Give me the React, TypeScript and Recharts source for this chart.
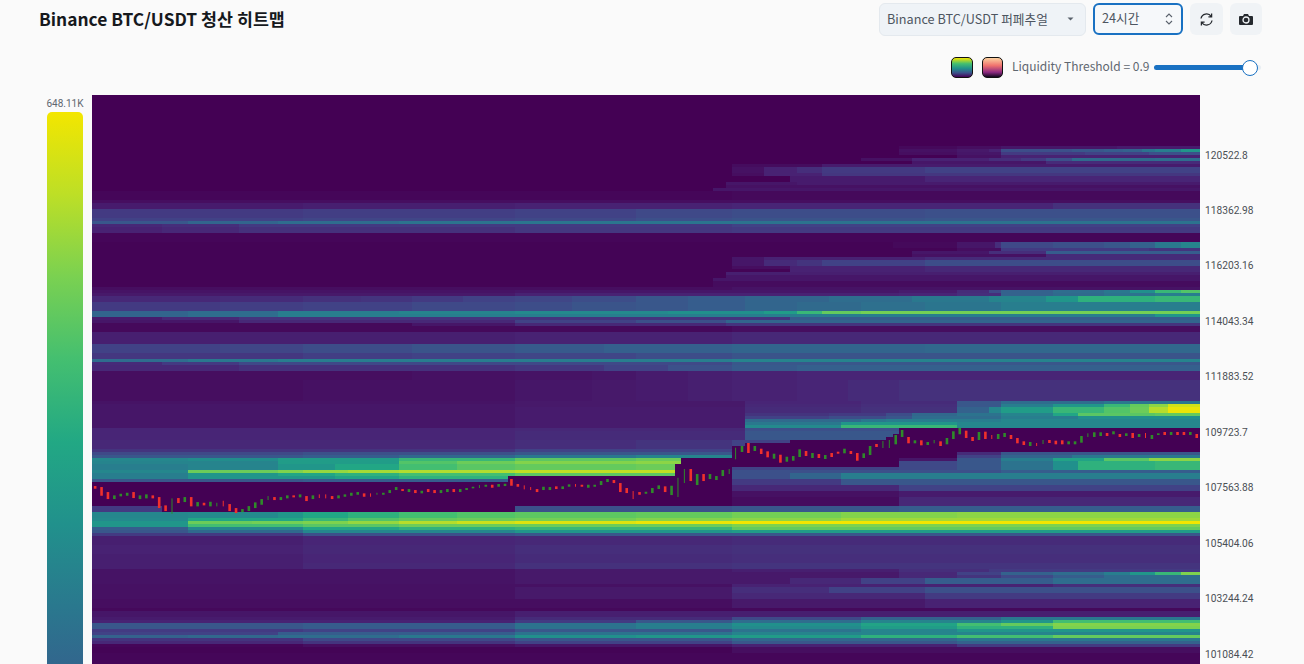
import React from "react";
import { ComposedChart, Bar, Scatter, XAxis, YAxis } from "recharts";

const title = "Binance BTC/USDT 청산 히트맵";
const marketLabel = "Binance BTC/USDT 퍼페추얼";
const rangeLabel = "24시간";
const thresholdLabel = "Liquidity Threshold = 0.9";
const maxLabel = "648.11K";

const priceTicks = [120522.8, 118362.98, 116203.16, 114043.34, 111883.52, 109723.7, 107563.88, 105404.06, 103244.24, 101084.42];
const priceTop = 122860;
const binSize = 116.871;
const rowCount = 205;
const colCount = 173;

const candleHighs = [
  107626,107587,107392,107263,107326,107365,107392,107263,107302,107263,
  107197,106873,107146,107158,107197,107197,107002,106975,107014,106975,
  107053,106924,106768,106729,106846,106990,107119,107236,107197,107197,
  107263,107263,107302,107236,107263,107302,107302,107236,107263,107302,
  107365,107392,107341,107341,107365,107365,107470,107587,107509,107509,
  107470,107443,107509,107470,107470,107509,107509,107509,107548,107599,
  107665,107677,107677,107704,107716,107899,107704,107653,107587,107509,
  107599,107587,107614,107614,107692,107704,107677,107677,107677,107821,
  107899,107860,107743,107548,107431,107392,107404,107548,107653,107614,
  107638,107950,108289,108289,108094,108094,108094,108016,108250,108289,
  109120,109186,109303,109186,109081,108979,108886,108847,108769,108796,
  109057,108991,108913,108874,108835,108913,108964,109081,108991,108913,
  108901,109186,109264,109381,109420,109615,109810,109537,109408,109408,
  109342,109420,109369,109498,109759,109888,109783,109537,109732,109744,
  109615,109654,109693,109615,109498,109369,109342,109303,109420,109420,
  109393,109408,109369,109369,109576,109681,109720,109720,109693,109759,
  109654,109681,109693,109654,109693,109615,109681,109732,109732,109732,
  109732,109732,109654,
];
const candleLows = [
  107521,107248,107119,107119,107224,107248,107158,107119,107146,107146,
  106768,106651,106546,106963,107002,106834,106834,106873,106834,106834,
  106834,106651,106573,106612,106651,106768,106897,107080,107080,107080,
  107146,107185,107185,107041,107119,107158,107146,107119,107146,107209,
  107248,107287,107209,107209,107287,107287,107353,107470,107431,107392,
  107353,107341,107392,107353,107353,107392,107392,107392,107470,107536,
  107548,107599,107560,107599,107626,107638,107599,107497,107470,107392,
  107470,107470,107509,107509,107599,107599,107599,107560,107599,107665,
  107782,107743,107392,107353,107119,107287,107326,107353,107509,107392,
  107275,107197,107743,107821,107665,107821,107899,107860,108016,108094,
  108667,108952,108913,108991,108874,108745,108691,108535,108574,108613,
  108757,108796,108718,108718,108679,108757,108886,108901,108874,108613,
  108718,108835,109147,109108,109108,109252,109537,109291,109291,109213,
  109225,109291,109186,109252,109459,109642,109498,109381,109420,109459,
  109459,109459,109537,109459,109291,109225,109186,109186,109264,109303,
  109252,109252,109252,109252,109315,109537,109537,109576,109576,109642,
  109537,109576,109498,109537,109498,109459,109615,109615,109615,109615,
  109615,109615,109498,
];
const candleColors =
  "rrrgggrggr" + "rrgrgrgrgg" + "rrrgggggrg" + "grgrgrrrgg" + "ggrrggggrg" + "rgrrggrggg" +
  "ggrggrrrrr" + "ggrggrrggg" + "grrrrrgggr" + "gggrgrgggg" + "ggrgrrgrgg" + "grgrgrrgrr" +
  "ggrggggrgr" + "ggrgggrrgr" + "rggrrrgrgr" + "rrggggggrg" + "rgrgrggrgr" + "rgr";
const thinCandles = [13,20,21,28,36,37,44,45,61,68,69,76,85,92,93,100,101,124,125,132,141,148,149,156,165];

// Where price already swept the liquidation levels: [first column, upper price, lower price]
const sweptZones = [
  [0,107743,106807],[11,107743,106651],[12,107743,106573],[65,107977,106573],[66,107977,106807],
  [91,108484,106807],[92,108718,106807],[100,109186,108406],[102,109342,108406],[109,109420,108406],
  [117,109420,108367],[124,109498,108367],[125,109693,108367],[126,109927,108679],[135,109927,108952],
];

// [first row, end row, [column, level (% of max), column, level, ...]]
const liquidityBands: [number, number, number[]][] = [
  [17,18,[126,3,135,5,142,8,160,10]],
  [18,19,[126,6,135,9,140,12,142,25,148,26,153,28,158,30,161,32,164,38,166,42,170,50]],
  [19,20,[126,5,135,8,142,20,155,22,165,26]],
  [20,21,[135,6,142,12]],
  [21,22,[120,6,128,12,140,16,145,20,149,26,153,35,166,36]],
  [22,23,[128,8,149,15]],
  [23,24,[100,4,114,10]],
  [24,26,[100,6,105,12,110,16,114,20,130,22]],
  [26,27,[100,5,105,12,114,19]],
  [27,29,[109,10,130,13]],
  [29,30,[99,8,110,10]],
  [30,31,[99,6]],
  [31,32,[97,8]],
  [32,35,[0,2,100,3]],
  [35,36,[0,5]],
  [36,38,[0,10,33,11,66,12,100,13,150,17]],
  [38,41,[0,20,33,21,66,22,85,24,100,25,130,26]],
  [41,42,[0,22,33,23,66,24,85,26,100,27,130,28]],
  [42,43,[0,28,15,33,29,36,48,38,66,39,100,38]],
  [43,44,[0,14,11,16,23,20,100,22]],
  [44,46,[0,12,11,14,23,17,66,19,100,20]],
  [46,49,[0,2]],
  [49,51,[0,1,125,3,135,8,141,16,142,24,150,26,158,28,162,32,166,40,170,44]],
  [51,52,[0,1,135,5,142,20,165,18]],
  [52,53,[0,1,128,8,140,16,149,30]],
  [53,54,[0,1,128,6,149,15]],
  [54,55,[0,1,100,8,105,12,130,15]],
  [55,57,[0,1,100,8,105,15,110,18,114,22,130,25]],
  [57,58,[0,1,100,5,109,12,130,14]],
  [58,59,[0,1,109,12,130,14]],
  [59,60,[0,1,99,11]],
  [60,61,[0,1,99,8]],
  [61,62,[0,1,97,8]],
  [62,64,[0,1,97,4]],
  [64,65,[0,5,100,7]],
  [65,66,[0,7,66,8,126,10,135,15,140,24,142,32,150,36,158,40,162,48,166,60,170,64]],
  [66,67,[0,9,66,12,126,13,135,16,142,32,150,35,158,38,166,42]],
  [67,69,[0,14,20,15,33,17,42,18,50,20,58,22,66,23,75,25,85,28,93,30,102,33,115,36,128,40,140,44,149,50,154,58,166,60]],
  [69,72,[0,20,20,21,33,22,50,24,66,25,75,27,85,28,93,30,102,33,110,35,120,37,130,39,142,42]],
  [72,73,[0,33,15,36,29,42,48,44,66,46,90,48,105,52,110,60,114,68,120,72]],
  [73,74,[0,33,15,36,29,42,100,42,166,50]],
  [74,75,[0,10,11,14,23,18,72,18,109,30]],
  [75,76,[0,8,23,14,66,22,85,26,99,33]],
  [76,77,[0,3,50,8,66,14,99,18]],
  [77,79,[0,3,100,5]],
  [79,83,[0,11,66,12,100,14]],
  [83,86,[0,22,20,23,33,25,50,27,66,29,80,31,100,33,130,34]],
  [86,88,[0,19,33,21,50,22,66,23,85,25,100,27]],
  [88,89,[0,36,15,40,29,42,100,44]],
  [89,90,[0,15,11,20,23,24,100,28]],
  [90,92,[0,14,23,17,66,19,80,22,90,26,100,29,110,31]],
  [92,95,[0,5,50,6,66,7,78,8,85,10,93,11,100,12,110,13]],
  [95,102,[0,5,33,6,66,8,78,9,85,10,93,11,100,12,110,13,118,15,126,17]],
  [102,103,[0,7,66,9,102,13,120,15,135,28,142,36,158,40]],
  [103,104,[0,8,66,9,102,14,120,16,135,28,142,42,150,50,158,60,162,68,165,78,168,92]],
  [104,106,[0,8,66,10,102,15,120,17,135,32,140,45,142,52,150,60,158,64,162,70,165,86,168,98]],
  [106,107,[0,8,66,10,102,18,115,20,124,25,128,34,135,38,142,44,150,55,154,65,166,68]],
  [107,108,[0,8,66,10,102,22,115,25,124,28,128,36,142,42,154,48]],
  [108,109,[0,8,66,10,102,35,120,40,124,42,142,45]],
  [109,110,[0,8,66,10,102,40,117,50,135,45]],
  [110,111,[0,8,66,10,102,46,117,60,135,45]],
  [111,112,[0,13,66,14,102,26]],
  [112,115,[0,13,66,15,102,28]],
  [115,118,[0,14,66,16,85,18,100,22]],
  [118,119,[0,18,66,22]],
  [119,120,[0,24,33,26,66,28,126,5,135,15,142,28]],
  [120,121,[0,28,33,30,48,34,66,40,85,44,126,8,135,22,142,33,153,40]],
  [121,122,[0,45,15,47,29,52,48,60,66,66,85,70,126,8,135,28,142,42,150,54,158,65,165,78]],
  [122,123,[0,44,29,52,48,64,57,70,66,76,85,78,100,22,126,24,135,28,142,38,150,48,154,58,166,60]],
  [123,125,[0,42,15,44,29,50,38,55,48,62,57,65,66,68,85,70,100,22,126,24,135,28,142,38,150,48,154,58,166,60]],
  [125,126,[0,45,15,70,29,75,33,80,40,83,48,85,66,88,100,26,126,26,142,30]],
  [126,127,[0,42,15,50,29,55,38,58,48,62,66,66,100,26,109,33,117,42]],
  [127,128,[0,42,15,50,38,54,48,58,66,62,100,26,109,33,117,42]],
  [128,130,[0,28,33,30,100,20,117,28]],
  [130,132,[100,14,126,22]],
  [132,134,[100,6,126,10]],
  [134,137,[100,4,126,14]],
  [137,139,[0,20,66,26,100,28,126,30]],
  [139,141,[0,45,15,46,29,50,33,55,40,58,48,62,57,64,66,66,85,68,100,72,117,76,135,78]],
  [141,142,[0,46,15,55,33,60,40,64,48,68,57,70,66,72,85,76,100,78,117,82]],
  [142,143,[0,50,15,70,25,72,33,75,40,80,48,86,57,91,66,95,85,98,100,100]],
  [143,144,[0,50,15,62,33,65,48,70,66,70,100,75]],
  [144,145,[0,30,15,45,33,55,48,58,66,60,100,68]],
  [145,146,[0,28,15,35,33,45,66,50,100,52]],
  [146,147,[0,20,33,26,66,28]],
  [147,150,[0,11,33,13,66,14,100,15]],
  [150,153,[0,12,33,14,66,16,100,17]],
  [153,156,[0,11,33,13,66,15,100,16]],
  [156,158,[0,11,33,14,66,17,100,18]],
  [158,159,[0,7,66,9,100,11,126,16,140,20]],
  [159,160,[0,7,66,9,126,14,135,22,142,32,150,36,158,42,162,50,166,60,170,75]],
  [160,161,[0,7,66,9,126,14,135,18,142,24,150,30,158,36]],
  [161,163,[0,7,66,9,109,14,120,22,130,30,150,36]],
  [163,164,[0,6,100,12,150,16]],
  [164,166,[0,6,66,9,100,16,115,22,130,26]],
  [166,168,[0,6,66,9,100,14,130,20]],
  [168,171,[0,5,100,9,130,12]],
  [171,172,[0,3]],
  [172,174,[0,8,66,11]],
  [174,175,[0,10,66,15,100,24,120,32,142,40]],
  [175,176,[0,12,66,20,85,28,100,36,120,44,142,50,150,62]],
  [176,177,[0,28,33,30,66,38,85,42,100,48,120,54,135,62,142,68,150,76]],
  [177,178,[0,28,33,30,66,38,85,42,100,46,120,52,135,58,150,74]],
  [178,179,[0,20,33,22,66,28,100,38,120,44,135,50]],
  [179,180,[0,22,29,30,66,38,100,44]],
  [180,181,[0,32,15,34,29,36,48,40,66,48,85,50,100,52,120,58,135,62,150,68]],
  [181,182,[0,18,33,24,66,28,100,34,135,40]],
  [182,183,[0,14,33,18,66,22,100,28,135,32]],
  [183,184,[0,2,33,5,66,8,100,12,135,20]],
  [184,186,[0,1,100,5]],
  [186,205,[0,2]],
];

const viridis = [
  [68,1,84],[72,36,117],[65,68,135],[53,95,141],[42,120,142],[33,145,140],
  [34,168,132],[68,191,112],[122,209,81],[189,223,38],[243,230,0],
];
// Calibration of read levels against the colour bar
const levelCurve = [[0,0],[10,7.5],[20,17],[28,27],[40,40],[50,52],[65,74],[80,84],[100,100]];
function colourOf(raw: number) {
  let level = raw;
  for (let i = 0; i < levelCurve.length - 1; i++) {
    const [a, b] = levelCurve[i];
    const [c, d] = levelCurve[i + 1];
    if (raw >= a && raw <= c) { level = b + ((raw - a) / (c - a)) * (d - b); break; }
  }
  const t = Math.max(0, Math.min(100, level)) / 10;
  const i = Math.min(9, Math.floor(t));
  const f = t - i;
  const c = viridis[i].map((a, k) => Math.round(a + (viridis[i + 1][k] - a) * f));
  return `rgb(${c[0]},${c[1]},${c[2]})`;
}

type Run = { col: number; price: number; span: number; level: number };

function buildRuns(): Run[] {
  const perRow = new Map<number, number[]>();
  liquidityBands.forEach(([a, b, stops]) => {
    for (let r = a; r < b; r++) perRow.set(r, stops);
  });
  const runs: Run[] = [];
  for (let r = 0; r < rowCount; r++) {
    const stops = perRow.get(r) || [0, 0];
    const price = priceTop - (r + 0.5) * binSize;
    let cur: Run | null = null;
    for (let c = 0; c < colCount; c++) {
      let level = 0;
      for (let s = 0; s < stops.length; s += 2) if (stops[s] <= c) level = stops[s + 1];
      let zone = sweptZones[0];
      for (const z of sweptZones) if (z[0] <= c) zone = z;
      if (price < zone[1] && price > zone[2]) level = 0;
      if (cur && cur.level === level) cur.span += 1;
      else {
        cur = { col: c, price, span: 1, level };
        runs.push(cur);
      }
    }
  }
  return runs;
}

const heatRuns = buildRuns();
const candles = candleHighs.map((h, i) => ({
  col: i,
  range: [candleLows[i], h],
  rising: candleColors[i] === "g",
  thin: thinCandles.includes(i + 1),
}));

const W = 1304;
const H = 715;
const plotLeft = 92;
const plotRight = 1200;
const plotTop = 95;
const plotBottom = 710;
const colPx = (plotRight - plotLeft) / colCount;
const rowPx = (plotBottom - plotTop) / rowCount;

const HeatCell = (p: any) => {
  const d = p.payload as Run;
  return (
    <rect
      x={p.cx}
      y={p.cy - rowPx / 2}
      width={d.span * colPx + 0.4}
      height={rowPx + 0.2}
      fill={colourOf(d.level)}
      shapeRendering="crispEdges"
    />
  );
};

const CandleBody = (p: any) => {
  const d = p.payload;
  const w = d.thin ? 1 : 2.6;
  return (
    <rect
      x={p.x + p.width / 2 - w / 2}
      y={p.y}
      width={w}
      height={Math.max(1.5, p.height)}
      fill={d.rising ? "#2f8a2a" : "#f0302c"}
    />
  );
};

const uiFont = "'Noto Sans CJK KR','Noto Sans',sans-serif";
const abs = (l: number, t: number, w: number, h: number): React.CSSProperties => ({
  position: "absolute", left: l, top: t, width: w, height: h, boxSizing: "border-box",
});

export default function App() {
  return (
    <div style={{ position: "absolute", left: 0, top: 0, width: W, height: 664, overflow: "hidden", background: "#fafafa", fontFamily: uiFont }}>
      <div style={{ position: "absolute", left: 39, top: 6, fontSize: 17.35, fontWeight: 700, color: "#16191d", lineHeight: "26px", whiteSpace: "nowrap" }}>{title}</div>

      <div style={{ ...abs(879, 3, 207, 33), background: "#eff3f7", border: "1px solid #e4e9ee", borderRadius: 6, color: "#4d5560", fontSize: 12.7, lineHeight: "29px", paddingLeft: 7, whiteSpace: "nowrap" }}>{marketLabel}</div>
      <svg style={abs(1066, 16, 9, 6)} viewBox="0 0 9 6"><path d="M1.5 1.5h6L4.5 4.5z" fill="#5a626c" /></svg>
      <div style={{ ...abs(1093, 3, 90, 32), background: "#f6f8fa", border: "2px solid #1971c2", borderRadius: 6, color: "#4d5560", fontSize: 12.7, lineHeight: "25px", paddingLeft: 7 }}>{rangeLabel}</div>
      <svg style={abs(1164, 11, 10, 16)} viewBox="0 0 10 16"><path d="M2 6l3-3 3 3M2 10l3 3 3-3" fill="none" stroke="#5a626c" strokeWidth="1.1" /></svg>
      <div style={{ ...abs(1190, 3, 33, 32), background: "#f0f3f6", borderRadius: 6 }} />
      <svg style={abs(1199, 12, 15, 15)} viewBox="0 0 15 15"><path d="M2 6.5A5.6 5.6 0 0 1 12.2 4.5M13 8.5A5.6 5.6 0 0 1 2.8 10.5M12.6 1.6v3.2H9.4M2.4 13.4v-3.2h3.2" fill="none" stroke="#25292e" strokeWidth="1.3" /></svg>
      <div style={{ ...abs(1230, 3, 32, 32), background: "#f0f3f6", borderRadius: 6 }} />
      <svg style={abs(1239, 13, 14, 13)} viewBox="0 0 14 13"><path d="M1 3h3l1-2h4l1 2h3a1 1 0 0 1 1 1v7a1 1 0 0 1-1 1H1a1 1 0 0 1-1-1V4a1 1 0 0 1 1-1z" fill="#25292e" /><circle cx="7" cy="7" r="3" fill="none" stroke="#f0f3f6" strokeWidth="1.3" /></svg>

      <div style={{ ...abs(951, 57, 22, 21), borderRadius: 5, border: "1px solid #111", background: "linear-gradient(#f3e600,#44bf70 30%,#21918c 55%,#3b528b 78%,#440154)" }} />
      <div style={{ ...abs(982, 57, 21, 21), borderRadius: 5, border: "1px solid #111", background: "linear-gradient(#fcd2a0,#f0726e 40%,#8c2981 75%,#12081e)" }} />
      <div style={{ position: "absolute", left: 1012, top: 57, fontSize: 12, lineHeight: "18px", color: "#5f6770", whiteSpace: "nowrap" }}>{thresholdLabel}</div>
      <div style={abs(1154, 65, 107, 5)}>
        <div style={{ ...abs(0, 0, 107, 5), background: "#e9eef3", borderRadius: 3 }} />
        <div style={{ ...abs(0, 0, 96, 5), background: "#1971c2", borderRadius: 3 }} />
      </div>
      <div style={{ ...abs(1242, 60, 16, 16), background: "#fff", border: "1px solid #1971c2", borderRadius: 8 }} />

      <div style={{ position: "absolute", left: 25, width: 80, top: 97, textAlign: "center", fontFamily: "Roboto,sans-serif", fontSize: 10, lineHeight: "13px", color: "#5f6770" }}>{maxLabel}</div>
      <div style={{ ...abs(47, 112, 36, 824), borderRadius: 5, background: `linear-gradient(${viridis.slice().reverse().map((c) => `rgb(${c.join(",")})`).join(",")})` }} />

      <div style={{ position: "absolute", left: 0, top: 0 }}>
        <ComposedChart width={W} height={H} data={candles} margin={{ left: plotLeft, top: plotTop, right: 0, bottom: H - plotBottom }}>
          <XAxis xAxisId="heat" type="number" dataKey="col" domain={[0, colCount]} hide allowDataOverflow />
          <XAxis xAxisId="candle" type="category" dataKey="col" hide />
          <YAxis
            orientation="right"
            type="number"
            width={W - plotRight}
            domain={[priceTop - rowCount * binSize, priceTop]}
            ticks={priceTicks}
            allowDataOverflow
            interval={0}
            axisLine={false}
            tickLine={false}
            tickMargin={-1}
            tick={{ fontSize: 10.2, fill: "#4a4f55", fontFamily: "Roboto,sans-serif" }}
            tickFormatter={(v: number) => String(v)}
          />
          <Scatter xAxisId="heat" data={heatRuns} dataKey="price" shape={HeatCell} isAnimationActive={false} zIndex={100} />
          <Bar xAxisId="candle" dataKey="range" shape={CandleBody} isAnimationActive={false} zIndex={700} />
        </ComposedChart>
      </div>
    </div>
  );
}
